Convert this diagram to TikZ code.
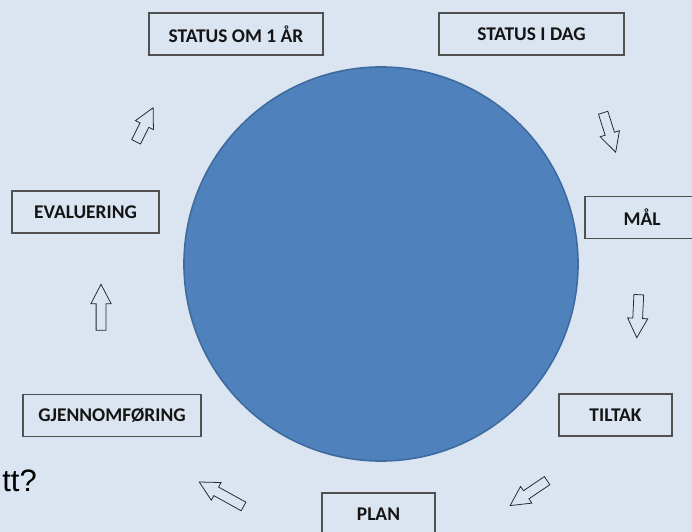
\documentclass[tikz,border=0pt]{standalone}
\usepackage{fontspec}
\setmainfont{Carlito}
\newfontfamily\handfont{Liberation Sans}
\usetikzlibrary{shapes.arrows}
\definecolor{paper}{HTML}{DBE5F1}
\definecolor{disc}{HTML}{4F81BD}
\definecolor{discln}{HTML}{3E6A9C}
\definecolor{frame}{HTML}{505050}
\definecolor{ink}{HTML}{141414}
\tikzset{
  every node/.style={font=\bfseries\fontsize{13.8}{15}\selectfont,text=ink},
  stage/.style={draw=frame,line width=0.85pt,minimum height=1.05cm,inner sep=0pt},
  hub/.style={circle,fill=disc,draw=discln,line width=1.1pt,minimum size=9.85cm,inner sep=0pt},
  turn/.style={single arrow,draw=black!85,fill=paper,line width=0.55pt,inner sep=3.2pt,
               single arrow head extend=0.13cm,single arrow tip angle=55},
  ask/.style={font=\handfont\fontsize{22}{24}\selectfont,text=black,inner sep=0pt},
}

\begin{document}
\begin{tikzpicture}[x=0.025cm,y=-0.025cm]
\useasboundingbox (0,0) rectangle (692,532);
\fill[paper] (0,0) rectangle (692,532);
\clip (0,0) rectangle (692,532);

\node[hub] (circ) at (381,264) {};

\node[stage,minimum width=4.35cm] (omaar) at (236,34) {STATUS OM 1 ÅR};
\node[stage,minimum width=4.625cm] (idag) at (531.5,34) {STATUS I DAG};
\node[stage,minimum width=2.85cm] (maal) at (642,217.5) {MÅL};
\node[stage,minimum width=2.825cm] (tiltak) at (615.5,415) {TILTAK};
\node[stage,minimum width=2.825cm] (plan) at (378.5,514) {PLAN};
\node[stage,minimum width=4.45cm] (gjen) at (112,415.5) {GJENNOMFØRING};
\node[stage,minimum width=3.675cm] (eval) at (85.5,212) {EVALUERING};

\node[turn,minimum height=1.035cm,rotate=-72.4] (t1) at (608,128) {};
\node[turn,minimum height=1.075cm,rotate=-92.7] (t2) at (638,311.5) {};
\node[turn,minimum height=1.115cm,rotate=-146] (t3) at (532.5,490.5) {};
\node[turn,minimum height=1.265cm,rotate=151.1] (t4) at (225.5,496.5) {};
\node[turn,minimum height=1.15cm,rotate=90] (t5) at (101,312) {};
\node[turn,minimum height=0.95cm,rotate=63.4] (t6) at (142.5,129) {};

\node[ask,anchor=base east] (q) at (37,491) {tt?};
\end{tikzpicture}
\end{document}
